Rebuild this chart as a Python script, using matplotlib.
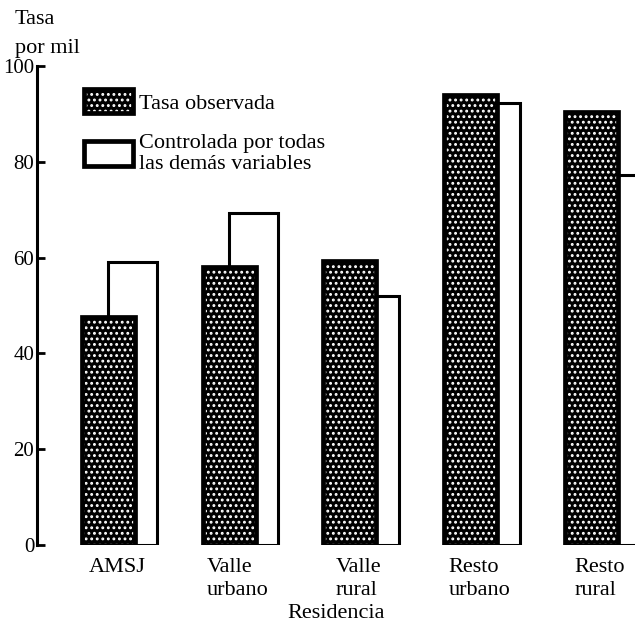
# Tasa por mil segun residencia: observada vs controlada
import numpy as np
import matplotlib
matplotlib.use('Agg')
import matplotlib.pyplot as plt
from matplotlib.patches import Patch
from matplotlib.legend_handler import HandlerTuple

# datos
categorias = ['AMSJ', 'Valle\nurbano', 'Valle\nrural', 'Resto\nurbano', 'Resto\nrural']
observada = [47.5, 58, 59.3, 94, 90.5]
controlada = [59, 69.3, 52, 92.2, 77.2]
ticks_y = [0, 20, 40, 60, 80, 100]

plt.rcParams['font.family'] = ['Liberation Serif', 'DejaVu Serif']
plt.rcParams['hatch.color'] = 'white'
plt.rcParams['hatch.linewidth'] = 1.3

fs = 16
fig = plt.figure(figsize=(6.35, 6.29), dpi=100)
ax = fig.add_axes([37 / 635, 84 / 629, 598 / 635, 479 / 629])

x = np.arange(len(categorias))
hatch = '...'

# barras controladas (detras)
ax.bar(x - 0.096, controlada, 0.41, align='edge', facecolor='white',
       edgecolor='black', linewidth=2.2, zorder=2)
# barras observadas: relleno punteado + contorno
ax.bar(x - 0.3125, observada, 0.44, align='edge', facecolor='black',
       hatch=hatch, linewidth=0, zorder=3)
ax.bar(x - 0.3125, observada, 0.44, align='edge', fill=False,
       edgecolor='black', linewidth=3.4, zorder=4)

ax.set_xlim(-0.683, 4.269)
ax.set_ylim(0, 100)

for s in ['top', 'right', 'bottom']:
    ax.spines[s].set_visible(False)
ax.spines['left'].set_linewidth(2.2)

ax.set_yticks(ticks_y)
ax.set_yticklabels([str(t) for t in ticks_y])
ax.tick_params(axis='y', direction='in', length=6, width=2, pad=2, labelsize=15)
ax.set_xticks(x - 0.02)
ax.set_xticklabels(categorias, fontsize=fs, multialignment='left', linespacing=1.3)
ax.tick_params(axis='x', length=0, pad=9)

ax.set_xlabel('Residencia', fontsize=fs, labelpad=3)

fig.text(15 / 635, 1 - 10 / 629, 'Tasa', fontsize=fs, va='top', ha='left')
fig.text(15 / 635, 1 - 39 / 629, 'por mil', fontsize=fs, va='top', ha='left')

h_obs = (Patch(facecolor='black', hatch=hatch, linewidth=0),
         Patch(fill=False, edgecolor='black', linewidth=3.4))
h_ctrl = Patch(facecolor='white', edgecolor='black', linewidth=3.4)
ax.legend([h_obs, h_ctrl],
          ['Tasa observada', 'Controlada por todas\nlas demás variables'],
          handler_map={tuple: HandlerTuple(ndivide=1, pad=0)},
          loc='upper left', bbox_to_anchor=(0.078, 0.952), frameon=False,
          fontsize=fs, handlelength=2.2, handleheight=1.3, handletextpad=0.3,
          labelspacing=0.9, borderpad=0, borderaxespad=0)

fig.savefig('out.png', dpi=100)
